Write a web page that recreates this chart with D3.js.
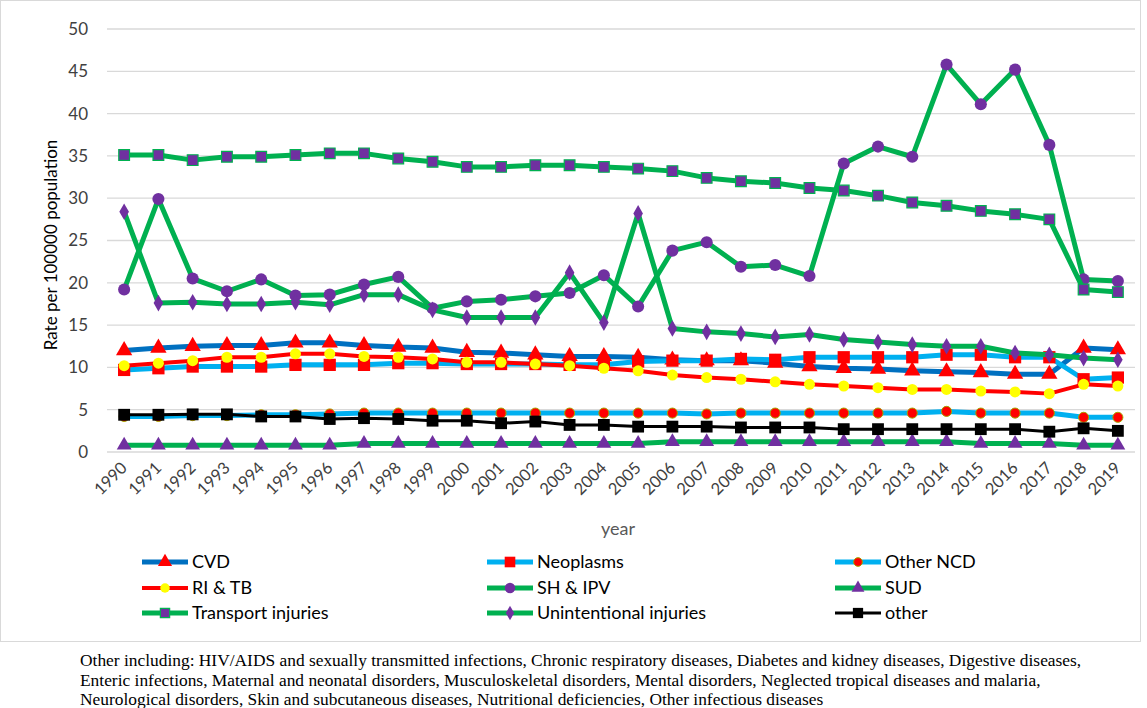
<!DOCTYPE html>
<html><head><meta charset="utf-8">
<script src="https://cdn.jsdelivr.net/npm/d3@7"></script>
<style>body{margin:0;background:#fff}svg{display:block}</style>
</head><body>
<svg id="c" width="1147" height="708"></svg>
<script>
const years = d3.range(1990, 2020).map(String);
const yTicks = [0,5,10,15,20,25,30,35,40,45,50];
const cvd = [12.0,12.3,12.5,12.6,12.6,12.9,12.9,12.6,12.4,12.3,11.8,11.7,11.5,11.3,11.3,11.2,10.9,10.8,10.8,10.5,10.1,9.9,9.8,9.6,9.5,9.4,9.2,9.2,12.3,12.1];
const neoplasms = [9.7,9.9,10.1,10.1,10.1,10.3,10.3,10.3,10.5,10.5,10.4,10.4,10.4,10.3,10.3,10.7,10.8,10.8,11.0,10.9,11.2,11.2,11.2,11.2,11.5,11.5,11.2,11.2,8.6,8.8];
const otherNCD = [4.2,4.2,4.3,4.3,4.4,4.4,4.5,4.6,4.6,4.6,4.6,4.6,4.6,4.6,4.6,4.6,4.6,4.5,4.6,4.6,4.6,4.6,4.6,4.6,4.8,4.6,4.6,4.6,4.1,4.1];
const riTb = [10.2,10.5,10.8,11.2,11.2,11.6,11.6,11.3,11.2,11.0,10.6,10.6,10.4,10.2,9.9,9.6,9.1,8.8,8.6,8.3,8.0,7.8,7.6,7.4,7.4,7.2,7.1,6.9,8.0,7.8];
const shIpv = [19.2,29.9,20.5,19.0,20.4,18.5,18.6,19.8,20.7,17.0,17.8,18.0,18.4,18.8,20.9,17.2,23.8,24.8,21.9,22.1,20.8,34.1,36.1,34.9,45.8,41.1,45.2,36.3,20.4,20.2];
const sud = [0.8,0.8,0.8,0.8,0.8,0.8,0.8,1.0,1.0,1.0,1.0,1.0,1.0,1.0,1.0,1.0,1.2,1.2,1.2,1.2,1.2,1.2,1.2,1.2,1.2,1.0,1.0,1.0,0.8,0.8];
const transport = [35.1,35.1,34.5,34.9,34.9,35.1,35.3,35.3,34.7,34.3,33.7,33.7,33.9,33.9,33.7,33.5,33.2,32.4,32.0,31.8,31.2,30.9,30.3,29.5,29.1,28.5,28.1,27.5,19.2,18.9];
const unintentional = [28.4,17.6,17.7,17.5,17.5,17.7,17.4,18.6,18.6,16.8,15.9,15.9,15.9,21.2,15.3,28.2,14.6,14.2,14.0,13.6,13.9,13.3,13.0,12.7,12.5,12.5,11.7,11.5,11.1,10.9];
const other = [4.4,4.4,4.45,4.45,4.2,4.2,3.9,4.0,3.9,3.7,3.7,3.4,3.6,3.2,3.2,3.0,3.0,3.0,2.9,2.9,2.9,2.7,2.7,2.7,2.7,2.7,2.7,2.4,2.8,2.5];
const seriesNames = ["CVD","Neoplasms","Other NCD","RI & TB","SH & IPV","SUD","Transport injuries","Unintentional injuries","other"];
const footnote = [
 "Other including: HIV/AIDS and sexually transmitted infections, Chronic respiratory diseases, Diabetes and kidney diseases, Digestive diseases,",
 "Enteric infections, Maternal and neonatal disorders, Musculoskeletal disorders, Mental disorders, Neglected tropical diseases and malaria,",
 "Neurological disorders, Skin and subcutaneous diseases, Nutritional deficiencies, Other infectious diseases"
];

const series = [
 {name:seriesNames[0], values:cvd, line:"#0070C0", lw:5, sym:d3.symbolTriangle, size:115, fill:"#FF0000", stroke:"none"},
 {name:seriesNames[1], values:neoplasms, line:"#00B0F0", lw:5, sym:d3.symbolSquare, size:150, fill:"#FF0000", stroke:"none"},
 {name:seriesNames[2], values:otherNCD, line:"#00B0F0", lw:5, sym:d3.symbolCircle, size:80, fill:"#FF0000", stroke:"#A5A500", sw:1},
 {name:seriesNames[3], values:riTb, line:"#FF0000", lw:4, sym:d3.symbolCircle, size:95, fill:"#FFFF00", stroke:"none"},
 {name:seriesNames[4], values:shIpv, line:"#00B050", lw:5, sym:d3.symbolCircle, size:115, fill:"#7030A0", stroke:"none"},
 {name:seriesNames[5], values:sud, line:"#00B050", lw:5, sym:d3.symbolTriangle, size:95, fill:"#7030A0", stroke:"none"},
 {name:seriesNames[6], values:transport, line:"#00B050", lw:5, sym:d3.symbolSquare, size:115, fill:"#7030A0", stroke:"#00B050", sw:1.2},
 {name:seriesNames[7], values:unintentional, line:"#00B050", lw:5, sym:d3.symbolDiamond, size:80, fill:"#7030A0", stroke:"none"},
 {name:seriesNames[8], values:other, line:"#000000", lw:3, sym:d3.symbolSquare, size:140, fill:"#000000", stroke:"none"}
];

const svg = d3.select("#c");
const font = "Lato, 'Noto Sans', sans-serif";

svg.append("rect").attr("x",0.5).attr("y",0.5).attr("width",1140).attr("height",641)
  .attr("fill","#fff").attr("stroke","#d9d9d9");

const x = d3.scaleBand().domain(years).range([107,1135]);
const y = d3.scaleLinear().domain([0,50]).range([452,29]);
const cx = d => x(d) + x.bandwidth()/2;

// gridlines
svg.append("g").selectAll("line").data(yTicks).join("line")
  .attr("x1",107).attr("x2",1135).attr("y1",d=>y(d)).attr("y2",d=>y(d))
  .attr("stroke","#d9d9d9").attr("stroke-width",1.3);

// y axis
const ya = svg.append("g").attr("transform","translate(107,0)")
  .call(d3.axisLeft(y).tickValues(yTicks).tickSize(0).tickPadding(19));
ya.select(".domain").remove();
ya.selectAll("text").attr("font-family",font).attr("font-size",17).attr("fill","#404040");

// x axis
const xa = svg.append("g").attr("transform","translate(0,452)")
  .call(d3.axisBottom(x).tickSize(0));
xa.select(".domain").remove();
xa.selectAll("text").attr("font-family",font).attr("font-size",16.5).attr("fill","#404040")
  .attr("text-anchor","end").attr("dy",0).attr("y",0)
  .attr("transform","translate(4,17) rotate(-45)");

svg.append("text").attr("x",618).attr("y",535).attr("text-anchor","middle")
  .attr("font-family",font).attr("font-size",18).attr("fill","#595959").text("year");
svg.append("text").attr("transform","translate(57,245) rotate(-90)").attr("text-anchor","middle")
  .attr("font-family",font).attr("font-size",17).attr("fill","#000").text("Rate per 100000 population");

// series
const line = d3.line().x((v,i)=>cx(years[i])).y(v=>y(v));
series.forEach(s=>{
  const g = svg.append("g");
  g.append("path").attr("d",line(s.values)).attr("fill","none").attr("stroke",s.line)
   .attr("stroke-width",s.lw).attr("stroke-linejoin","round");
  g.selectAll("path.m").data(s.values).join("path").attr("class","m")
   .attr("d",d3.symbol().type(s.sym).size(s.size))
   .attr("transform",(v,i)=>`translate(${cx(years[i])},${y(v)})`)
   .attr("fill",s.fill).attr("stroke",s.stroke).attr("stroke-width",s.sw||0);
});

// legend
const colX = [142,487,835], rowY = [562,588,613];
series.forEach((s,i)=>{
  const lx = colX[i%3], ly = rowY[Math.floor(i/3)];
  const g = svg.append("g").attr("transform",`translate(${lx},${ly})`);
  g.append("line").attr("x1",0).attr("x2",46).attr("stroke",s.line).attr("stroke-width",s.lw);
  g.append("path").attr("d",d3.symbol().type(s.sym).size(s.size*0.75)).attr("transform","translate(23,0)")
   .attr("fill",s.fill).attr("stroke",s.stroke).attr("stroke-width",s.sw||0);
  g.append("text").attr("x",50).attr("y",6).attr("font-family",font).attr("font-size",18)
   .attr("fill","#000").text(s.name);
});

// footnote
svg.append("g").selectAll("text").data(footnote).join("text")
  .attr("x",80).attr("y",(d,i)=>666+i*19.5)
  .attr("font-family","'Liberation Serif', 'Times New Roman', serif").attr("font-size",17.4)
  .attr("fill","#000").text(d=>d);
</script>
</body></html>
